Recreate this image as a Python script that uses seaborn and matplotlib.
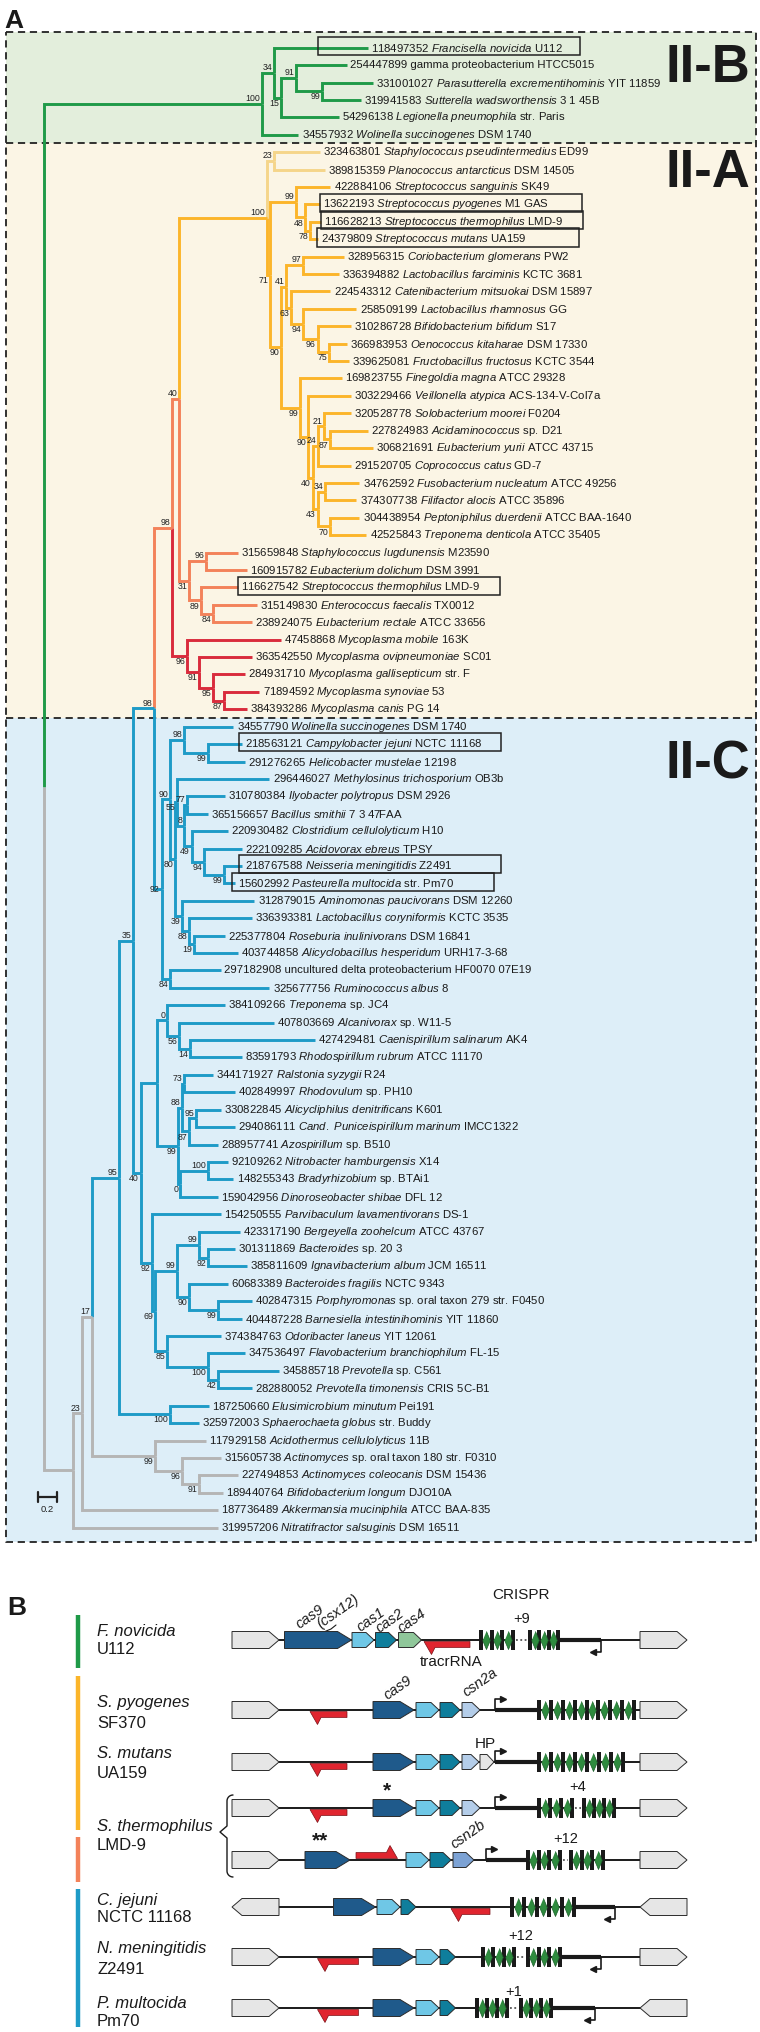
import numpy as np
import matplotlib
matplotlib.use("Agg")
import matplotlib.pyplot as plt
import matplotlib.transforms as mtransforms
from matplotlib import font_manager
from matplotlib.patches import Rectangle, Polygon
import seaborn as sns

# ---------------- panel A: leaves (top to bottom) ----------------
leaf_ids = ["118497352", "254447899", "331001027", "319941583", "54296138", "34557932",
            "323463801", "389815359", "422884106", "13622193", "116628213", "24379809",
            "328956315", "336394882", "224543312", "258509199", "310286728", "366983953",
            "339625081", "169823755", "303229466", "320528778", "227824983", "306821691",
            "291520705", "34762592", "374307738", "304438954", "42525843", "315659848",
            "160915782", "116627542", "315149830", "238924075", "47458868", "363542550",
            "284931710", "71894592", "384393286", "34557790", "218563121", "291276265",
            "296446027", "310780384", "365156657", "220930482", "222109285", "218767588",
            "15602992", "312879015", "336393381", "225377804", "403744858", "297182908",
            "325677756", "384109266", "407803669", "427429481", "83591793", "344171927",
            "402849997", "330822845", "294086111", "288957741", "92109262", "148255343",
            "159042956", "154250555", "423317190", "301311869", "385811609", "60683389",
            "402847315", "404487228", "374384763", "347536497", "345885718", "282880052",
            "187250660", "325972003", "117929158", "315605738", "227494853", "189440764",
            "187736489", "319957206"]
leaf_taxa = ["Francisella novicida", "", "Parasutterella excrementihominis", "Sutterella wadsworthensis",
             "Legionella pneumophila", "Wolinella succinogenes", "Staphylococcus pseudintermedius",
             "Planococcus antarcticus", "Streptococcus sanguinis", "Streptococcus pyogenes",
             "Streptococcus thermophilus", "Streptococcus mutans", "Coriobacterium glomerans",
             "Lactobacillus farciminis", "Catenibacterium mitsuokai", "Lactobacillus rhamnosus",
             "Bifidobacterium bifidum", "Oenococcus kitaharae", "Fructobacillus fructosus",
             "Finegoldia magna", "Veillonella atypica", "Solobacterium moorei", "Acidaminococcus",
             "Eubacterium yurii", "Coprococcus catus", "Fusobacterium nucleatum", "Filifactor alocis",
             "Peptoniphilus duerdenii", "Treponema denticola", "Staphylococcus lugdunensis",
             "Eubacterium dolichum", "Streptococcus thermophilus", "Enterococcus faecalis",
             "Eubacterium rectale", "Mycoplasma mobile", "Mycoplasma ovipneumoniae",
             "Mycoplasma gallisepticum", "Mycoplasma synoviae", "Mycoplasma canis",
             "Wolinella succinogenes", "Campylobacter jejuni", "Helicobacter mustelae",
             "Methylosinus trichosporium", "Ilyobacter polytropus", "Bacillus smithii",
             "Clostridium cellulolyticum", "Acidovorax ebreus", "Neisseria meningitidis",
             "Pasteurella multocida", "Aminomonas paucivorans", "Lactobacillus coryniformis",
             "Roseburia inulinivorans", "Alicyclobacillus hesperidum", "", "Ruminococcus albus",
             "Treponema", "Alcanivorax", "Caenispirillum salinarum", "Rhodospirillum rubrum",
             "Ralstonia syzygii", "Rhodovulum", "Alicycliphilus denitrificans",
             "Cand. Puniceispirillum marinum", "Azospirillum", "Nitrobacter hamburgensis",
             "Bradyrhizobium", "Dinoroseobacter shibae", "Parvibaculum lavamentivorans",
             "Bergeyella zoohelcum", "Bacteroides", "Ignavibacterium album", "Bacteroides fragilis",
             "Porphyromonas", "Barnesiella intestinihominis", "Odoribacter laneus",
             "Flavobacterium branchiophilum", "Prevotella", "Prevotella timonensis",
             "Elusimicrobium minutum", "Sphaerochaeta globus", "Acidothermus cellulolyticus",
             "Actinomyces", "Actinomyces coleocanis", "Bifidobacterium longum",
             "Akkermansia muciniphila", "Nitratifractor salsuginis"]
leaf_strain = ["U112", "gamma proteobacterium HTCC5015", "YIT 11859", "3 1 45B", "str. Paris", "DSM 1740",
               "ED99", "DSM 14505", "SK49", "M1 GAS", "LMD-9", "UA159", "PW2", "KCTC 3681",
               "DSM 15897", "GG", "S17", "DSM 17330", "KCTC 3544", "ATCC 29328", "ACS-134-V-Col7a",
               "F0204", "sp. D21", "ATCC 43715", "GD-7", "ATCC 49256", "ATCC 35896", "ATCC BAA-1640",
               "ATCC 35405", "M23590", "DSM 3991", "LMD-9", "TX0012", "ATCC 33656", "163K", "SC01",
               "str. F", "53", "PG 14", "DSM 1740", "NCTC 11168", "12198", "OB3b", "DSM 2926",
               "7 3 47FAA", "H10", "TPSY", "Z2491", "str. Pm70", "DSM 12260", "KCTC 3535",
               "DSM 16841", "URH17-3-68", "uncultured delta proteobacterium HF0070 07E19", "8",
               "sp. JC4", "sp. W11-5", "AK4", "ATCC 11170", "R24", "sp. PH10", "K601", "IMCC1322",
               "sp. B510", "X14", "sp. BTAi1", "DFL 12", "DS-1", "ATCC 43767", "sp. 20 3",
               "JCM 16511", "NCTC 9343", "sp. oral taxon 279 str. F0450", "YIT 11860", "YIT 12061",
               "FL-15", "sp. C561", "CRIS 5C-B1", "Pei191", "str. Buddy", "11B",
               "sp. oral taxon 180 str. F0310", "DSM 15436", "DJO10A", "ATCC BAA-835", "DSM 16511"]
# root-to-tip distance of each leaf (substitutions per site)
leaf_dist = [3.344, 3.128, 3.396, 3.272, 3.045, 2.623,
             2.849, 2.901, 2.953, 2.849, 2.860, 2.824, 3.097, 3.045, 2.953, 3.221, 3.169, 3.128,
             3.148, 3.076, 3.169, 3.169, 3.344, 3.396, 3.169, 3.252, 3.221, 3.252, 3.324,
             1.999, 2.097, 1.999, 2.200, 2.148,
             2.447, 2.148, 2.076, 2.221, 2.097,
             1.953, 2.045, 2.076, 2.324, 1.870, 1.695, 1.901, 2.045, 2.045, 1.973, 2.174, 2.148,
             1.870, 1.999, 1.824, 2.324,
             1.870, 2.375, 2.798, 2.045, 1.746, 1.973, 1.824, 1.973, 1.798, 1.901, 1.953, 1.798,
             1.824, 2.025, 1.973, 2.097, 1.901, 2.148, 2.045, 1.824, 2.076, 2.427, 2.148, 1.700,
             1.602,
             1.674, 1.824, 1.999, 1.849, 1.798, 1.798]
# leaves framed in the figure (value: how far the frame reaches left of the text)
boxed = {0: 0.55, 9: 0.04, 10: 0.04, 11: 0.04, 31: 0.03, 40: 0.07, 47: 0.07, 48: 0.07}
clades = [("II-B", 0, 5, "#e3eedc"), ("II-A", 6, 38, "#fbf5e5"), ("II-C", 39, 85, "#ddeef8")]
scale_bar = 0.2

GREEN, PALE, YELLOW, ORANGE, RED, BLUE, GREY = ("#1f9a48", "#f5d58a", "#fbb52a", "#f3825a",
                                                 "#d92b3c", "#1e9bc7", "#b5b5b5")


def N(dist, support, pos, *kids, color=None):
    return {"d": dist, "s": support, "p": pos, "kids": kids, "c": color}


# II-B
n99a = N(2.870, "99", "b", 2, 3)
n91a = N(2.602, "91", "a", 1, n99a)
n15a = N(2.447, "15", "b", n91a, 4)
n34a = N(2.375, "34", "a", 0, n15a)
IIB = N(2.252, "100", "a", n34a, 5, color=GREEN)
# II-A yellow
n78 = N(2.746, "78", "b", 10, 11)
n48 = N(2.695, "48", "b", 9, n78)
n99s = N(2.602, "99", "a", 8, n48)
n97 = N(2.674, "97", "a", 12, 13)
n75 = N(2.942, "75", "b", 17, 18)
n96o = N(2.824, "96", "b", 16, n75)
n94 = N(2.674, "94", "b", 15, n96o)
n63 = N(2.551, "63", "b", 14, n94)
n41 = N(2.499, "41", "a", n97, n63)
n87y = N(2.953, "87", "b", 22, 23)
n21 = N(2.891, "21", "a", 21, n87y)
n24 = N(2.824, "24", "a", n21, 24)
n34y = N(2.901, "34", "a", 25, 26)
n70 = N(2.953, "70", "b", 27, 28)
n43 = N(2.824, "43", "b", n34y, n70)
n40b = N(2.773, "40", "b", n24, n43)
n90b = N(2.726, "90", "b", 20, n40b)
n99c = N(2.648, "99", "b", 19, n90b)
n90y = N(2.447, "90", "b", n41, n99c)
n71 = N(2.339, "71", "b", n99s, n90y)
n23 = N(2.375, "23", "a", 6, 7, color=PALE)
n100y = N(2.299, "100", "a", n23, n71, color=YELLOW)
# II-A orange / red
n96b = N(1.674, "96", "a", 29, 30)
n84o = N(1.746, "84", "b", 32, 33)
n89 = N(1.623, "89", "b", 31, n84o)
n31 = N(1.499, "31", "b", n96b, n89)
n40y = N(1.396, "40", "a", n100y, n31)
n87m = N(1.860, "87", "b", 37, 38)
n95m = N(1.746, "95", "b", 36, n87m)
n91m = N(1.602, "91", "b", 35, n95m)
myco = N(1.478, "96", "b", 34, n91m, color=RED)
IIA = N(1.324, "98", "a", n40y, myco, color=ORANGE)
# II-C upper
n99cj = N(1.695, "99", "b", 40, 41)
n98c = N(1.447, "98", "a", 39, n99cj)
n77 = N(1.474, "77", "a", 43, 44)
n99n = N(1.860, "99", "b", 47, 48)
n94c = N(1.649, "94", "b", 46, n99n)
n49 = N(1.525, "49", "b", 45, n94c)
n8 = N(1.447, "8", "a", n77, n49)
n55 = N(1.375, "55", "b", 42, n8)
n19 = N(1.551, "19", "b", 51, 52)
n88 = N(1.499, "88", "b", 50, n19)
n39 = N(1.427, "39", "b", 49, n88)
n80 = N(1.355, "80", "b", n55, n39)
n90c = N(1.303, "90", "a", n98c, n80)
n84 = N(1.303, "84", "b", 53, 54)
n92 = N(1.221, "92", "m", n90c, n84)
n98 = N(1.138, "98", "a", IIA, n92)
# II-C lower
n14 = N(1.509, "14", "b", 57, 58)
n56 = N(1.396, "56", "b", 56, n14)
n0 = N(1.272, "0", "a", 55, n56)
n73 = N(1.447, "73", "a", 59, 60)
n95b = N(1.571, "95", "a", 61, 62)
n87b = N(1.499, "87", "b", n95b, 63)
n88b = N(1.427, "88", "a", n73, n87b)
n100n = N(1.695, "100", "a", 64, 65)
n0b = N(1.406, "0", "b", n100n, 66)
n99e = N(1.386, "99", "b", n88b, n0b)
nX = N(1.174, None, "a", n0, n99e)
n92c = N(1.695, "92", "b", 69, 70)
n99g = N(1.602, "99", "a", 68, n92c)
n99f = N(1.798, "99", "b", 72, 73)
n90f = N(1.499, "90", "b", 71, n99f)
n99h = N(1.375, "99", "a", n99g, n90f)
n42 = N(1.798, "42", "b", 76, 77)
n100p = N(1.695, "100", "b", 75, n42)
n85 = N(1.272, "85", "b", 74, n100p)
n69 = N(1.148, "69", "b", n99h, n85)
n92d = N(1.118, "92", "b", 67, n69)
n40c = N(1.000, "40", "b", nX, n92d)
n35 = N(0.922, "35", "a", n98, n40c)
nE = N(1.303, "100", "b", 78, 79)
n95 = N(0.777, "95", "a", n35, nE, color=BLUE)
# outgroup (grey)
g6 = N(1.602, "91", "b", 82, 83)
g5 = N(1.427, "96", "b", 81, g6)
g4 = N(1.148, "99", "b", 80, g5)
n17 = N(0.499, "17", "a", n95, g4)
g2 = N(0.400, "23", "a", n17, 84)
g1 = N(0.300, None, "a", g2, 85, color=GREY)
root = N(0.0, None, "a", IIB, g1)

# ---------------- panel B: loci ----------------
locus_names = ["F. novicida", "S. pyogenes", "S. mutans", "S. thermophilus", "C. jejuni",
               "N. meningitidis", "P. multocida"]
locus_strains = ["U112", "SF370", "UA159", "LMD-9", "NCTC 11168", "Z2491", "Pm70"]
locus_genes = [
    [(0, 47, "flank", 1), (52.5, 119.5, "cas9", 1), (120, 142, "cas1", 1), (143.5, 164.5, "cas2", 1),
     (166.5, 189.5, "cas4", 1), (408, 455, "flank", 1)],
    [(0, 47, "flank", 1), (141, 182, "cas9", 1), (184, 207, "cas1", 1), (208, 228, "cas2", 1),
     (230, 248, "csn2a", 1), (408, 455, "flank", 1)],
    [(0, 47, "flank", 1), (141, 182, "cas9", 1), (184, 207, "cas1", 1), (208, 228, "cas2", 1),
     (230, 247, "csn2a", 1), (248, 262, "hp", 1), (408, 455, "flank", 1)],
    [(0, 47, "flank", 1), (141, 182, "cas9", 1), (184, 207, "cas1", 1), (208, 228, "cas2", 1),
     (230, 248, "csn2a", 1), (408, 455, "flank", 1)],
    [(0, 47, "flank", 1), (73, 118, "cas9", 1), (174, 197, "cas1", 1), (198, 219, "cas2", 1),
     (221, 242, "csn2b", 1), (408, 455, "flank", 1)],
    [(0, 47, "flank", -1), (101.5, 143.5, "cas9", 1), (145, 168, "cas1", 1), (169, 184, "cas2", 1),
     (408, 455, "flank", -1)],
    [(0, 47, "flank", 1), (141, 182, "cas9", 1), (184, 207, "cas1", 1), (208, 223.5, "cas2", 1),
     (408, 455, "flank", 1)],
    [(0, 47, "flank", 1), (141, 182, "cas9", 1), (184, 207, "cas1", 1), (208, 223.5, "cas2", 1),
     (408, 455, "flank", -1)],
]
locus_tracr = [(192, 238, -1), (78, 115, -1), (78, 115, -1), (78, 115, -1), (124, 165.5, 1),
               (219, 258, -1), (85.5, 126.5, -1), (85.5, 126.5, -1)]
locus_arrays = [[(247, 283, 3), (296, 328, 3)], [(305, 404, 8)], [(305, 393, 7)],
                [(305, 342, 3), (350, 384, 3)], [(294, 330, 3), (337, 373, 3)], [(278, 344, 5)],
                [(249, 284, 3), (294, 330, 3)], [(243, 277, 3), (287, 320.5, 3)]]
locus_leader = [(328, 369), (263, 305), (263, 305), (263, 305), (254, 294), (344, 383), (330, 369),
                (320.5, 363)]
locus_promoter = [(369, -1), (263, 1), (263, 1), (263, 1), (254, 1), (383, -1), (369, -1), (363, -1)]
extra_spacers = ["+9", None, None, "+4", "+12", None, "+12", "+1"]

gene_color = {"flank": "#e6e6e6", "cas9": "#1f5a8b", "cas1": "#6fc7e6", "cas2": "#0f7e9c",
              "cas4": "#8fc79a", "csn2a": "#b4cde9", "csn2b": "#7ca2d4", "hp": "#e6e6e6"}
gene_size = {"flank": (17, 10), "cas9": (17, 14), "cas1": (15, 8), "cas2": (15, 8), "cas4": (15, 8),
             "csn2a": (15, 8), "csn2b": (15, 8), "hp": (15, 7)}

# ---------------- style ----------------
sns.set_theme(style="white")
avail = {f.name for f in font_manager.fontManager.ttflist}
NARROW = "Liberation Sans Narrow" if "Liberation Sans Narrow" in avail else "Liberation Sans"
narrow = NARROW != "Liberation Sans"
plt.rcParams["font.family"] = ["Liberation Sans", "DejaVu Sans"]
plt.rcParams["mathtext.fontset"] = "custom"
plt.rcParams["mathtext.rm"] = NARROW
plt.rcParams["mathtext.it"] = NARROW + ":italic"
plt.rcParams["mathtext.bf"] = NARROW + ":bold"
LEAF_FS = 10 if narrow else 8.2
BOOT_FS = 7.5 if narrow else 6.3
INK = "#1a1a1a"

W, H = 760, 2032
PX_UNIT, ROW_PX, ROOT_PX, TOP_PX = 97.0, 17.41, 43.6, 47.7

fig = plt.figure(figsize=(7.6, 20.32), dpi=100)
axA = fig.add_axes([0, 0, 1, 1])
axA.set_xlim(-ROOT_PX / PX_UNIT, (W - ROOT_PX) / PX_UNIT)
axA.set_ylim((H - TOP_PX) / ROW_PX, -TOP_PX / ROW_PX)
axA.axis("off")
blend = mtransforms.blended_transform_factory(axA.transAxes, axA.transData)

# clade panels
bounds = [clades[0][1] - 0.9]
for k in range(len(clades) - 1):
    bounds.append((clades[k][2] + clades[k + 1][1]) / 2)
bounds.append(clades[-1][2] + 0.85)
bx0, bx1 = 0.008, 0.995
for k, (name, a, b, col) in enumerate(clades):
    axA.add_patch(Rectangle((bx0, bounds[k]), bx1 - bx0, bounds[k + 1] - bounds[k],
                            transform=blend, fc=col, ec="none", zorder=0))
dash = dict(color="#222222", lw=1.3, ls=(0, (4, 2.6)), transform=blend, zorder=1)
axA.plot([bx0, bx1, bx1, bx0, bx0], [bounds[0], bounds[0], bounds[-1], bounds[-1], bounds[0]], **dash)
for yb in bounds[1:-1]:
    axA.plot([bx0, bx1], [yb, yb], **dash)
for (name, a, b, col), off in zip(clades, [1.97, 2.0, 2.95]):
    axA.text(0.987, a + off, name, transform=blend, ha="right", va="baseline", fontsize=38,
             fontweight="bold", color=INK, family="Liberation Sans", zorder=6)

# tree
segs, boots = [], []


def walk(node, color):
    if isinstance(node, int):
        return float(node), leaf_dist[node]
    c = node["c"] or color
    info = []
    for k in node["kids"]:
        kc = k["c"] if isinstance(k, dict) and k["c"] else c
        yk, xk = walk(k, c)
        info.append((yk, xk, kc))
    y = (info[0][0] + info[-1][0]) / 2
    x = node["d"]
    for yk, xk, kc in info:
        segs.append(((x, x, xk), (y, yk, yk), kc))
    if node["s"]:
        boots.append((x, y, node["s"], node["p"]))
    return y, x


walk(root, GREEN)
for xs, ys, col in segs:
    axA.plot(xs, ys, color=col, lw=2.1, solid_capstyle="butt", solid_joinstyle="miter", zorder=2)

for i in range(len(leaf_ids)):
    parts = [leaf_ids[i]]
    if leaf_taxa[i]:
        parts.append("$\\mathit{" + leaf_taxa[i].replace(" ", "\\ ") + "}$")
    parts.append(leaf_strain[i])
    axA.annotate(" ".join(parts), (leaf_dist[i], i), xytext=(2.5, 0), textcoords="offset points",
                 ha="left", va="center", fontsize=LEAF_FS, family=NARROW, color=INK, zorder=5)

gap_u = 3.5 / PX_UNIT
for i, pad in boxed.items():
    axA.add_patch(Rectangle((leaf_dist[i] + gap_u - pad, i - 0.62), 262 / PX_UNIT, 1.04,
                            fill=False, ec="#222222", lw=1.1, zorder=4))

for x, y, s, p in boots:
    if p == "a":
        off, va = (-1.2, 0.6), "bottom"
    elif p == "b":
        off, va = (-1.2, -0.8), "top"
    else:
        off, va = (-2.0, 0), "center"
    axA.annotate(s, (x, y), xytext=off, textcoords="offset points", ha="right", va=va,
                 fontsize=BOOT_FS, family=NARROW, color="#222222", zorder=5)

# scale bar
sb_x, sb_y = -0.058, 83.25
axA.plot([sb_x, sb_x + scale_bar], [sb_y, sb_y], color="#222222", lw=1.6, zorder=5)
for xx in (sb_x, sb_x + scale_bar):
    axA.plot([xx, xx], [sb_y - 0.3, sb_y + 0.3], color="#222222", lw=1.6, zorder=5)
axA.text(sb_x + scale_bar / 2, sb_y + 0.45, f"{scale_bar:g}", ha="center", va="top",
         fontsize=BOOT_FS + 0.5, family=NARROW, color="#222222")

# ---------------- panel B ----------------
axB = fig.add_axes([0, 0, 1, 1])
axB.set_xlim(-232, W - 232)
axB.set_ylim(H, 0)
axB.axis("off")
row_y = [1640, 1710, 1762, 1808, 1860, 1907, 1957, 2008]


def gene_poly(x0, x1, y, h, d, tip):
    if d > 0:
        return [(x0, y - h / 2), (x1 - tip, y - h / 2), (x1, y), (x1 - tip, y + h / 2), (x0, y + h / 2)]
    return [(x1, y - h / 2), (x0 + tip, y - h / 2), (x0, y), (x0 + tip, y + h / 2), (x1, y + h / 2)]


def tracr_poly(x0, x1, y, d):
    if d < 0:
        return [(x0, y + 1.5), (x1, y + 1.5), (x1, y + 7.5), (x0 + 11, y + 7.5), (x0 + 7.5, y + 14.5)]
    return [(x1, y - 1.5), (x0, y - 1.5), (x0, y - 7.5), (x1 - 11, y - 7.5), (x1 - 7.5, y - 14.5)]


diamond = [(0, 1), (0.42, 0), (0, -1), (-0.42, 0)]
sp_x, sp_y = [], []
for r, y0 in enumerate(row_y):
    genes = locus_genes[r]
    axB.plot([genes[0][1], genes[-1][0]], [y0, y0], color="k", lw=1.4, zorder=1)
    la, lb = locus_leader[r]
    axB.plot([la, lb], [y0, y0], color="k", lw=3.0, solid_capstyle="butt", zorder=2)
    for x0, x1, kind, d in genes:
        h, tip = gene_size[kind]
        axB.add_patch(Polygon(gene_poly(x0, x1, y0, h, d, tip), closed=True, fc=gene_color[kind],
                              ec="#2b2b2b", lw=0.7, zorder=3))
    t0, t1, td = locus_tracr[r]
    axB.add_patch(Polygon(tracr_poly(t0, t1, y0, td), closed=True, fc="#e0252f", ec="#7a1016",
                          lw=0.5, zorder=3))
    groups = locus_arrays[r]
    for a, b, n in groups:
        reps = np.linspace(a + 2, b - 2, n + 1)
        for xr in reps:
            axB.add_patch(Rectangle((xr - 2, y0 - 10), 4, 20, fc="k", ec="none", zorder=3))
        sp_x.extend((reps[:-1] + reps[1:]) / 2)
        sp_y.extend([y0] * n)
    for (a1, b1, n1), (a2, b2, n2) in zip(groups[:-1], groups[1:]):
        axB.plot([b1, a2], [y0, y0], color="#ffffff", lw=2.2, zorder=2)
        axB.plot([b1 + 1, a2 - 1], [y0, y0], color="#555555", lw=1.3, ls=(0, (1, 1.4)), zorder=2.5)
    px, pd = locus_promoter[r]
    if pd > 0:
        pts = ([px, px, px + 8], [y0, y0 - 11, y0 - 11]); mk = ">"
    else:
        pts = ([px, px, px - 8], [y0, y0 + 12, y0 + 12]); mk = "<"
    axB.plot(*pts, color="k", lw=1.2, zorder=3)
    axB.plot(pts[0][-1], pts[1][-1], marker=mk, ms=4, color="k", zorder=3)
    if extra_spacers[r]:
        xs = np.mean([groups[0][1], groups[-1][0]]) if len(groups) > 1 else groups[0][1]
        dy = -16 if r == 7 else -21
        axB.text(xs, y0 + dy, extra_spacers[r], ha="center", va="center", fontsize=10.5, color=INK)

sns.scatterplot(x=sp_x, y=sp_y, marker=diamond, s=169, color="#2e8b3e", edgecolor="#1b5e2a",
                linewidth=0.5, ax=axB, legend=False, zorder=4)

# gene annotations
it = dict(fontstyle="italic", fontsize=10.5, color=INK, rotation=35, ha="center", va="center")
y = row_y
axB.text(78, y[0] - 23, "cas9", **it)
axB.text(106, y[0] - 29, "(csx12)", **it)
axB.plot([104, 99, 93], [y[0] - 15, y[0] - 11, y[0] - 8.5], color=INK, lw=0.8)
axB.text(139, y[0] - 20, "cas1", **it)
axB.text(158, y[0] - 19, "cas2", **it)
axB.text(180, y[0] - 19, "cas4", **it)
axB.text(219, y[0] + 22, "tracrRNA", ha="center", va="center", fontsize=11, color=INK)
axB.text(289, y[0] - 45, "CRISPR", ha="center", va="center", fontsize=11, color=INK)
axB.text(165.5, y[1] - 22, "cas9", **it)
axB.text(248, y[1] - 27, "csn2a", **it)
axB.text(253, y[2] - 18, "HP", ha="center", va="center", fontsize=11, color=INK)
axB.text(155, y[3] - 17, "*", ha="center", va="center", fontsize=15, fontweight="bold", color=INK)
axB.text(88, y[4] - 19, "**", ha="center", va="center", fontsize=15, fontweight="bold", color=INK)
axB.text(236, y[4] - 25, "csn2b", **it)

# locus labels and clade bars
name_y = [(y[0] - 9, y[0] + 10), (y[1] - 8, y[1] + 14), (y[2] - 8, y[2] + 11),
          ((y[3] + y[4]) / 2 - 8, (y[3] + y[4]) / 2 + 12), (y[5] - 7, y[5] + 11),
          (y[6] - 9, y[6] + 12), (y[7] - 5, y[7] + 14)]
for (nm, st), (yn, ys) in zip(zip(locus_names, locus_strains), name_y):
    axB.text(-135, yn, nm, fontstyle="italic", fontsize=12, ha="left", va="center", color=INK)
    axB.text(-135, ys, st, fontsize=12, ha="left", va="center", color=INK)
for ya, yb, col in [(1615, 1668, GREEN), (1676, 1830, YELLOW), (1837, 1882, ORANGE), (1889, 2027, BLUE)]:
    axB.plot([-154.4, -154.4], [ya, yb], color=col, lw=3.2, solid_capstyle="butt")
# brace for the two S. thermophilus loci
t = np.linspace(0, np.pi / 2, 10)
bxr, bxm, bxc = 1, -5, -12
top, mid, bot = 1795, 1832, 1877
arc_top = (bxm + (bxr - bxm) * (1 - np.cos(t)), top + 6 * (1 - np.sin(t)))
bx = np.concatenate([bxr - (bxr - bxm) * np.sin(t), [bxm, bxc, bxm, bxm], bxm + (bxr - bxm) * (1 - np.cos(t))])
by = np.concatenate([top + 6 * (1 - np.cos(t)), [mid - 6, mid, mid + 6, bot - 6], bot - 6 + 6 * np.sin(t)])
axB.plot(bx, by, color=INK, lw=1.0)

fig.text(0.006, 1 - 28 / H, "A", fontsize=19, fontweight="bold", va="baseline", color="k")
fig.text(0.010, 1 - 1615 / H, "B", fontsize=19, fontweight="bold", va="baseline", color="k")

fig.savefig("out.png", dpi=100, facecolor="white")
